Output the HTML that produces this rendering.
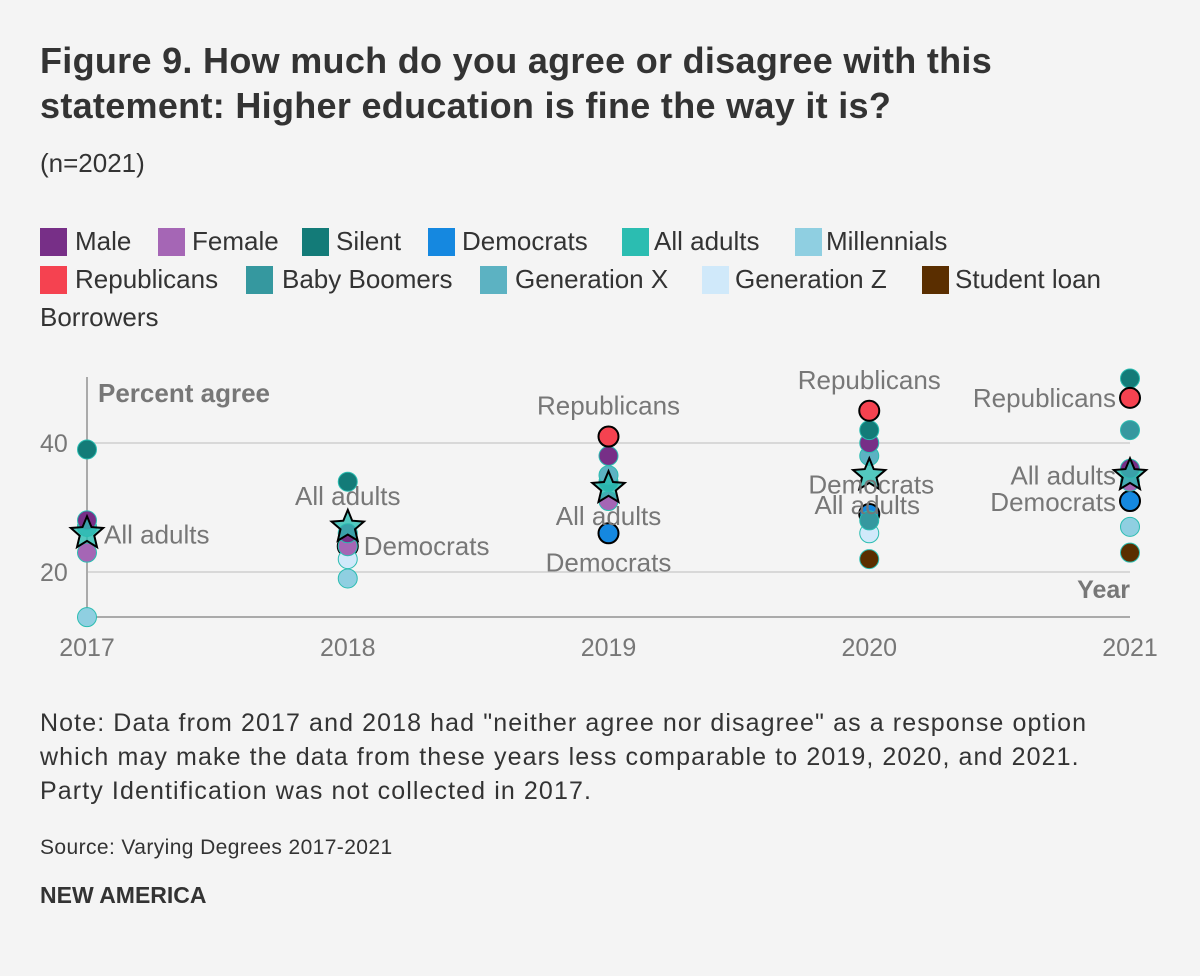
<!DOCTYPE html>
<html><head><meta charset="utf-8"><style>
body{margin:0;background:#f4f4f4;font-family:"Liberation Sans",sans-serif;}
#root{position:relative;width:1200px;height:976px;overflow:hidden;}
.t{position:absolute;white-space:nowrap;}
.title{left:40px;top:38px;font-size:36px;font-weight:bold;color:#333;line-height:45px;letter-spacing:0.3px;}
.sub{left:40px;top:148px;font-size:26px;color:#333;}
.lg{position:absolute;font-size:26px;color:#333;white-space:nowrap;line-height:28px;}
.sw{position:absolute;width:27px;height:28px;}
.note{left:40px;top:706px;font-size:25px;color:#333;line-height:34px;letter-spacing:1.1px;}
.src{left:40px;top:836px;font-size:21px;color:#333;letter-spacing:0.4px;}
.brand{left:40px;top:882px;font-size:23px;font-weight:bold;color:#333;}
</style></head><body><div id="root">
<div class="t title">Figure 9. How much do you agree or disagree with this<br>statement: Higher education is fine the way it is?</div>
<div class="t sub">(n=2021)</div>
<div id="legend"></div>
<svg id="chart" width="1200" height="976" style="position:absolute;left:0;top:0"></svg>
<div class="t note">Note: Data from 2017 and 2018 had "neither agree nor disagree" as a response option<br>which may make the data from these years less comparable to 2019, 2020, and 2021.<br>Party Identification was not collected in 2017.</div>
<div class="t src">Source: Varying Degrees 2017-2021</div>
<div class="t brand">NEW AMERICA</div>
</div>
<script>
const years=[2017,2018,2019,2020,2021];
const seriesNames=["Male","Female","Silent","Democrats","All adults","Millennials","Republicans","Baby Boomers","Generation X","Generation Z","Student loan Borrowers"];
const colors=["#772f87","#a566b5","#137b78","#1588e0","#2bbdb1","#8fcfe1","#f54250","#35989f","#5cb2c2","#d0e9fa","#5a2e00"];
const male=[28,26,38,40,36];
const female=[23,24,31,null,34];
const silent=[39,34,null,42,50];
const democrats=[null,24,26,29,31];
const allAdults=[26,27,33,35,35];
const millennials=[13,19,null,null,27];
const republicans=[null,null,41,45,47];
const boomers=[27,null,34,28,42];
const genX=[27,null,35,38,null];
const genZ=[null,22,null,26,null];
const studentLoan=[null,null,null,22,23];
const yTicks=[20,40];
const values=[male,female,silent,democrats,allAdults,millennials,republicans,boomers,genX,genZ,studentLoan];
const drawOrder=[3,10,5,9,7,8,1,0,2,6];
const svg=document.getElementById('chart');
const NS='http://www.w3.org/2000/svg';
const x=yr=>87+(yr-2017)*260.75;
const y=v=>572-(v-20)*6.45;
function el(tag,attrs,parent){const e=document.createElementNS(NS,tag);for(const k in attrs)e.setAttribute(k,attrs[k]);(parent||svg).appendChild(e);return e;}
const lg=document.getElementById('legend');
const lgPos=[[40,228,75],[158,228,192],[302,228,336],[428,228,462],[622,228,654],[795,228,826],[40,266,75],[246,266,282],[480,266,515],[702,266,735],[922,266,955]];
seriesNames.forEach((n,i)=>{const p=lgPos[i];
 const s=document.createElement('div');s.className='sw';s.style.left=p[0]+'px';s.style.top=p[1]+'px';s.style.background=colors[i];
 
 
 lg.appendChild(s);
 const t=document.createElement('div');t.className='lg';t.style.left=p[2]+'px';t.style.top=(p[1]-1)+'px';t.textContent=i===10?'Student loan':n;
 
 
 lg.appendChild(t);});
const b=document.createElement('div');b.className='lg';b.style.left='40px';b.style.top='303px';b.textContent='Borrowers';


lg.appendChild(b);
yTicks.forEach(v=>{const l=el('line',{x1:87,x2:1130,y1:y(v),y2:y(v),stroke:'#d8d8d8','stroke-width':2});
 
 
 const t=el('text',{x:40,y:y(v)+9,'font-size':25,fill:'#777'});t.textContent=v;
 
 });
const ax=el('line',{x1:87,x2:87,y1:377,y2:617,stroke:'#aaa','stroke-width':2});


const bx=el('line',{x1:87,x2:1130,y1:617,y2:617,stroke:'#aaa','stroke-width':2});


years.forEach(yr=>{const t=el('text',{x:x(yr),y:656,'font-size':25,fill:'#777','text-anchor':'middle'});t.textContent=yr;
 
 });
const yt=el('text',{x:98,y:402,'font-size':26,'font-weight':'bold',fill:'#777'});yt.textContent='Percent agree';


const xt=el('text',{x:1130,y:598,'font-size':25,'font-weight':'bold',fill:'#777','text-anchor':'end'});xt.textContent='Year';


drawOrder.forEach(si=>{values[si].forEach((v,j)=>{if(v==null)return;
 const hl=(si===3||si===6);
 const c=el('circle',{cx:x(years[j]),cy:y(v),r:hl?10:9.5,fill:colors[si],stroke:hl?'#000':'#2bbdb1','stroke-width':hl?2:1});
 
 });});
function star(cx,cy,r){let p=[];for(let k=0;k<10;k++){const a=-Math.PI/2+k*Math.PI/5;const rr=k%2?r*0.45:r;p.push((cx+rr*Math.cos(a)).toFixed(1)+','+(cy+rr*Math.sin(a)).toFixed(1));}return p.join(' ');}
allAdults.forEach((v,j)=>{const s=el('polygon',{points:star(x(years[j]),y(v),17),fill:colors[4],stroke:'#000','stroke-width':2,'fill-opacity':0.8});
 
 });
// [yearIndex,label,series,anchor,dx,dy]
const ann=[[0,'All adults',4,'start',17,10],[1,'All adults',4,'middle',0,-22],[1,'Democrats',3,'start',16,9],
 [2,'Republicans',6,'middle',0,-22],[2,'All adults',4,'middle',0,37],[2,'Democrats',3,'middle',0,38],
 [3,'Republicans',6,'middle',0,-22],[3,'Democrats',4,'middle',2,18],[3,'All adults',3,'middle',-2,0],
 [4,'Republicans',6,'end',-14,9],[4,'All adults',4,'end',-14,9],[4,'Democrats',3,'end',-14,10]];
ann.forEach(a=>{const v=values[a[2]][a[0]];
 const t=el('text',{x:x(years[a[0]])+a[4],y:y(v)+a[5],'font-size':26,fill:'#777','text-anchor':a[3]});
 t.textContent=a[1];
 
 });
</script></body></html>
